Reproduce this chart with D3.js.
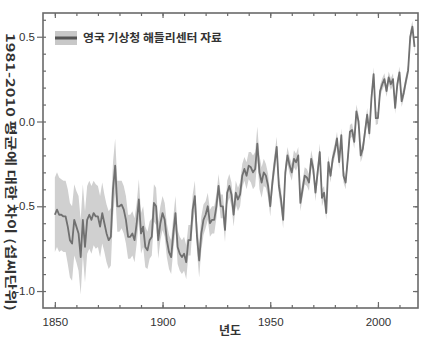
<!DOCTYPE html>
<html>
<head>
<meta charset="utf-8">
<script src="https://cdn.jsdelivr.net/npm/d3@7"></script>
<style>
  html, body { margin: 0; padding: 0; background: #fff; }
  svg { display: block; font-family: "Liberation Sans", Arial, sans-serif; }
</style>
</head>
<body>
<svg id="chart" width="422" height="337"></svg>
<script>
// Annual global temperature anomaly (°C, relative to 1981-2010), 1850-2017
const firstYear = 1850;
const anomaly = [
  -0.55,-0.52,-0.55,-0.55,-0.56,-0.56,-0.62,-0.70,-0.72,-0.58,
  -0.62,-0.66,-0.80,-0.58,-0.74,-0.58,-0.55,-0.58,-0.54,-0.56,
  -0.56,-0.62,-0.54,-0.60,-0.66,-0.70,-0.68,-0.40,-0.26,-0.50,
  -0.50,-0.49,-0.52,-0.58,-0.68,-0.68,-0.66,-0.70,-0.60,-0.46,
  -0.66,-0.62,-0.74,-0.76,-0.70,-0.68,-0.48,-0.50,-0.70,-0.60,
  -0.54,-0.58,-0.70,-0.77,-0.80,-0.66,-0.54,-0.74,-0.78,-0.80,
  -0.78,-0.83,-0.70,-0.70,-0.52,-0.44,-0.68,-0.82,-0.66,-0.58,
  -0.55,-0.50,-0.60,-0.58,-0.58,-0.50,-0.38,-0.50,-0.50,-0.64,
  -0.42,-0.38,-0.43,-0.55,-0.42,-0.46,-0.43,-0.32,-0.28,-0.32,
  -0.26,-0.27,-0.30,-0.28,-0.13,-0.30,-0.36,-0.30,-0.32,-0.38,
  -0.50,-0.36,-0.25,-0.15,-0.38,-0.46,-0.58,-0.30,-0.20,-0.26,
  -0.30,-0.22,-0.24,-0.20,-0.48,-0.40,-0.32,-0.33,-0.36,-0.22,
  -0.28,-0.42,-0.30,-0.18,-0.45,-0.42,-0.54,-0.24,-0.32,-0.22,
  -0.17,-0.10,-0.24,-0.08,-0.32,-0.36,-0.22,-0.06,-0.05,-0.12,
   0.06, 0.00,-0.20,-0.16,-0.06, 0.04,-0.07, 0.14, 0.28, 0.02,
   0.02, 0.18, 0.22, 0.25, 0.18, 0.26, 0.22, 0.25, 0.08, 0.22,
   0.29, 0.12, 0.17, 0.24, 0.30, 0.50, 0.56, 0.44
];
// Half-width of the uncertainty range for each year (°C)
const uncertainty = [
  0.22,0.22,0.22,0.21,0.21,0.21,0.22,0.22,0.22,0.21,
  0.21,0.22,0.22,0.21,0.21,0.20,0.20,0.20,0.19,0.19,
  0.18,0.18,0.18,0.17,0.17,0.17,0.17,0.16,0.16,0.15,
  0.15,0.14,0.14,0.14,0.13,0.13,0.13,0.13,0.12,0.12,
  0.12,0.12,0.12,0.11,0.11,0.11,0.11,0.11,0.11,0.10,
  0.10,0.10,0.10,0.10,0.10,0.10,0.10,0.10,0.10,0.10,
  0.10,0.10,0.09,0.09,0.09,0.09,0.09,0.10,0.10,0.09,
  0.08,0.08,0.08,0.08,0.08,0.07,0.07,0.07,0.07,0.07,
  0.07,0.07,0.07,0.07,0.07,0.07,0.07,0.07,0.07,0.08,
  0.08,0.09,0.10,0.10,0.10,0.10,0.09,0.08,0.07,0.07,
  0.06,0.06,0.06,0.06,0.06,0.06,0.05,0.05,0.05,0.05,
  0.05,0.05,0.05,0.05,0.05,0.05,0.05,0.05,0.05,0.05,
  0.05,0.05,0.05,0.05,0.05,0.04,0.04,0.04,0.04,0.04,
  0.04,0.04,0.04,0.04,0.04,0.04,0.04,0.04,0.04,0.04,
  0.04,0.04,0.04,0.04,0.04,0.04,0.04,0.04,0.04,0.04,
  0.035,0.035,0.035,0.035,0.035,0.035,0.035,0.035,0.035,0.035,
  0.035,0.035,0.035,0.035,0.035,0.035,0.035,0.035
];
const xTickYears = [1850, 1900, 1950, 2000];
const yTickValues = [-1.0, -0.5, 0.0, 0.5];
const yTickLabels = ["-1.0", "-0.5", "0.0", "0.5"];
const legendLabel = "영국 기상청 해들리센터 자료";
const xTitle = "년도";
const yTitle = "1981-2010 평균에 대한 차이 (섭씨단위)";

const records = anomaly.map((v, i) => ({
  year: firstYear + i, value: v, lo: v - uncertainty[i], hi: v + uncertainty[i]
}));

const svg = d3.select("#chart");
const plot = { left: 43, right: 418, top: 13, bottom: 308 };

const x = d3.scaleLinear().domain([1844.5, 2018.6]).range([plot.left, plot.right]);
const y = d3.scaleLinear().domain([-1.10, 0.64]).range([plot.bottom, plot.top]);

svg.append("defs").append("clipPath").attr("id", "plotClip")
  .append("rect").attr("x", plot.left).attr("y", plot.top)
  .attr("width", plot.right - plot.left).attr("height", plot.bottom - plot.top);

const g = svg.append("g").attr("clip-path", "url(#plotClip)");

// uncertainty band
g.append("path").datum(records)
  .attr("fill", "#d0d0d0")
  .attr("d", d3.area().x(d => x(d.year)).y0(d => y(d.lo)).y1(d => y(d.hi)));

// annual anomaly line
g.append("path").datum(records)
  .attr("fill", "none").attr("stroke", "#707070").attr("stroke-width", 1.8)
  .attr("stroke-linejoin", "round")
  .attr("d", d3.line().x(d => x(d.year)).y(d => y(d.value)));

// axes: ticks inward on all sides, major left ticks outward
const axisColor = "#6a6a6a";
const minorX = d3.range(1850, 2019, 10);
const minorY = d3.range(-1.0, 0.61, 0.1);

svg.append("g").attr("transform", `translate(0,${plot.bottom})`)
  .call(d3.axisBottom(x).tickValues(minorX).tickSize(-3).tickFormat(""));
svg.append("g").attr("transform", `translate(0,${plot.bottom})`)
  .call(d3.axisBottom(x).tickValues(xTickYears).tickSize(-6).tickPadding(10).tickFormat(d3.format("d")));
svg.append("g").attr("transform", `translate(0,${plot.top})`)
  .call(d3.axisTop(x).tickValues(minorX).tickSize(-3).tickFormat(""));
svg.append("g").attr("transform", `translate(0,${plot.top})`)
  .call(d3.axisTop(x).tickValues(xTickYears).tickSize(-5).tickFormat(""));
svg.append("g").attr("transform", `translate(${plot.left},0)`)
  .call(d3.axisLeft(y).tickValues(minorY).tickSize(-3).tickFormat(""));
svg.append("g").attr("transform", `translate(${plot.left},0)`)
  .call(d3.axisLeft(y).tickValues(yTickValues).tickSize(6).tickPadding(2)
    .tickFormat((d, i) => yTickLabels[i]));
svg.append("g").attr("transform", `translate(${plot.right},0)`)
  .call(d3.axisRight(y).tickValues(minorY).tickSize(-3).tickFormat(""));
svg.append("g").attr("transform", `translate(${plot.right},0)`)
  .call(d3.axisRight(y).tickValues(yTickValues).tickSize(-5).tickFormat(""));

svg.selectAll(".domain").remove();
svg.selectAll(".tick line").attr("stroke", axisColor).attr("stroke-width", 1.2);
svg.selectAll(".tick text").attr("fill", "#333").attr("font-size", 11.5)
  .attr("font-family", "'Liberation Sans Narrow', 'Arial Narrow', sans-serif");

// frame
svg.append("rect")
  .attr("x", plot.left).attr("y", plot.top)
  .attr("width", plot.right - plot.left).attr("height", plot.bottom - plot.top)
  .attr("fill", "none").attr("stroke", axisColor).attr("stroke-width", 1.6);

// legend
const lg = svg.append("g");
lg.append("rect").attr("x", 55).attr("y", 31).attr("width", 22).attr("height", 14).attr("fill", "#c8c8c8");
lg.append("line").attr("x1", 55).attr("x2", 77).attr("y1", 38).attr("y2", 38)
  .attr("stroke", "#555").attr("stroke-width", 3);
lg.append("text").attr("x", 83).attr("y", 42)
  .attr("font-family", "'Noto Sans CJK KR', sans-serif").attr("font-weight", "bold")
  .attr("font-size", 11).attr("fill", "#333")
  .attr("textLength", 139).attr("lengthAdjust", "spacingAndGlyphs")
  .text(legendLabel);

// axis titles
svg.append("text").attr("x", 230).attr("y", 335).attr("text-anchor", "middle")
  .attr("font-family", "'Noto Sans CJK KR', sans-serif").attr("font-weight", "bold")
  .attr("font-size", 12).attr("fill", "#333").text(xTitle);

svg.append("text")
  .attr("transform", "translate(6,172) rotate(90)")
  .attr("text-anchor", "middle")
  .attr("font-family", "'Noto Sans CJK KR', sans-serif").attr("font-weight", "bold")
  .attr("font-size", 12).attr("fill", "#333")
  .attr("textLength", 278).attr("lengthAdjust", "spacingAndGlyphs")
  .text(yTitle);
</script>
</body>
</html>
